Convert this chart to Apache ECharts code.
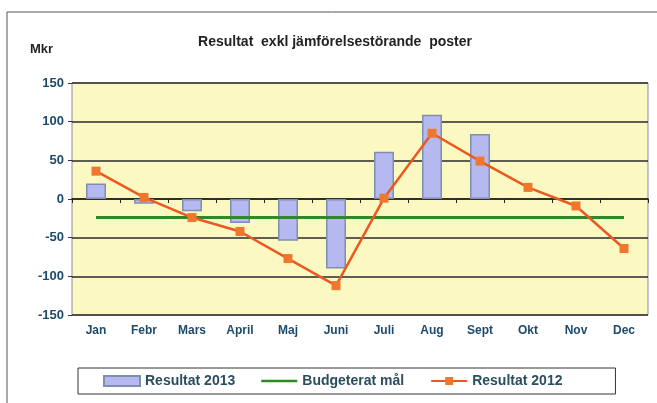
<!DOCTYPE html>
<html>
<head>
<meta charset="utf-8">
<script src="https://cdn.jsdelivr.net/npm/echarts@6/dist/echarts.min.js"></script>
<style>
  html, body { margin: 0; padding: 0; background: #fff; }
  #chart { width: 657px; height: 403px; }
</style>
</head>
<body>
<div id="chart"></div>
<script>
// månader och värden (Mkr)
const months = ['Jan', 'Febr', 'Mars', 'April', 'Maj', 'Juni', 'Juli', 'Aug', 'Sept', 'Okt', 'Nov', 'Dec']
const resultat2013 = [20, -6, -16, -31, -54, -90, 61, 109, 84, null, null, null]
const budget = [-24, -24, -24, -24, -24, -24, -24, -24, -24, -24, -24, -24]
const resultat2012 = [36, 2, -24, -42, -77, -112, 1, 85, 49, 15, -9, -64]

const labelColor = '#1d4a6b'
const font = 'Liberation Sans, Arial, sans-serif'

const chart = echarts.init(document.getElementById('chart'))
chart.setOption({
  animation: false,
  backgroundColor: '#fff',
  title: {
    text: 'Resultat  exkl jämförelsestörande  poster',
    left: 330,
    textAlign: 'center',
    top: 30,
    textStyle: { fontFamily: font, fontSize: 14, fontWeight: 'bold', color: '#222' }
  },
  graphic: [
    {
      type: 'rect',
      shape: { x: 7, y: 12, width: 660, height: 400 },
      style: { fill: 'none', stroke: '#555', lineWidth: 1 }
    },
    {
      type: 'text',
      left: 30,
      top: 43,
      style: { text: 'Mkr', font: 'bold 13px ' + font, fill: '#222' }
    }
  ],
  grid: {
    left: 72,
    right: 9,
    top: 83,
    bottom: 88,
    show: true,
    backgroundColor: '#fcf8c2',
    borderColor: '#8a8aa8',
    borderWidth: 1
  },
  legend: {
    left: 78,
    top: 368,
    padding: [6, 53, 6, 25],
    itemGap: 26,
    itemWidth: 36,
    itemHeight: 10,
    borderColor: '#333',
    borderWidth: 1,
    textStyle: { fontFamily: font, fontSize: 14, fontWeight: 'bold', color: '#2a4e5e' },
    data: [
      { name: 'Resultat 2013', icon: 'rect' },
      { name: 'Budgeterat mål', icon: 'path://M0,0 L40,0 L40,3 L0,3 Z' },
      'Resultat 2012'
    ]
  },
  xAxis: [
    {
      type: 'category',
      data: months,
      axisLine: { show: false, onZero: false },
      axisTick: { show: false },
      axisLabel: { fontFamily: font, fontSize: 12, fontWeight: 'bold', color: labelColor, margin: 10 }
    },
    {
      type: 'category',
      data: months,
      position: 'bottom',
      axisLine: { show: true, onZero: true, lineStyle: { color: '#222', width: 1.5 } },
      axisTick: { show: true, length: 4, lineStyle: { color: '#222' } },
      axisLabel: { show: false }
    }
  ],
  yAxis: {
    type: 'value',
    min: -150,
    max: 150,
    interval: 50,
    axisLine: { show: false },
    axisTick: { show: true, length: 4, lineStyle: { color: '#333' } },
    axisLabel: { fontFamily: font, fontSize: 13, fontWeight: 'bold', color: labelColor, margin: 8 },
    splitLine: { lineStyle: { color: '#2a2a2a', width: 1.5 } }
  },
  series: [
    {
      name: 'Resultat 2013',
      type: 'bar',
      data: resultat2013,
      barWidth: 20,
      itemStyle: { color: '#b6b9f0', borderColor: '#7f8fb0', borderWidth: 1.5 }
    },
    {
      name: 'Budgeterat mål',
      type: 'line',
      data: budget,
      symbol: 'none',
      lineStyle: { color: '#2d8a26', width: 3 },
      itemStyle: { color: '#2d8a26' }
    },
    {
      name: 'Resultat 2012',
      type: 'line',
      data: resultat2012,
      symbol: 'rect',
      symbolSize: 9,
      lineStyle: { color: '#e85a22', width: 2.5 },
      itemStyle: { color: '#f0782e' }
    }
  ]
})
</script>
</body>
</html>
